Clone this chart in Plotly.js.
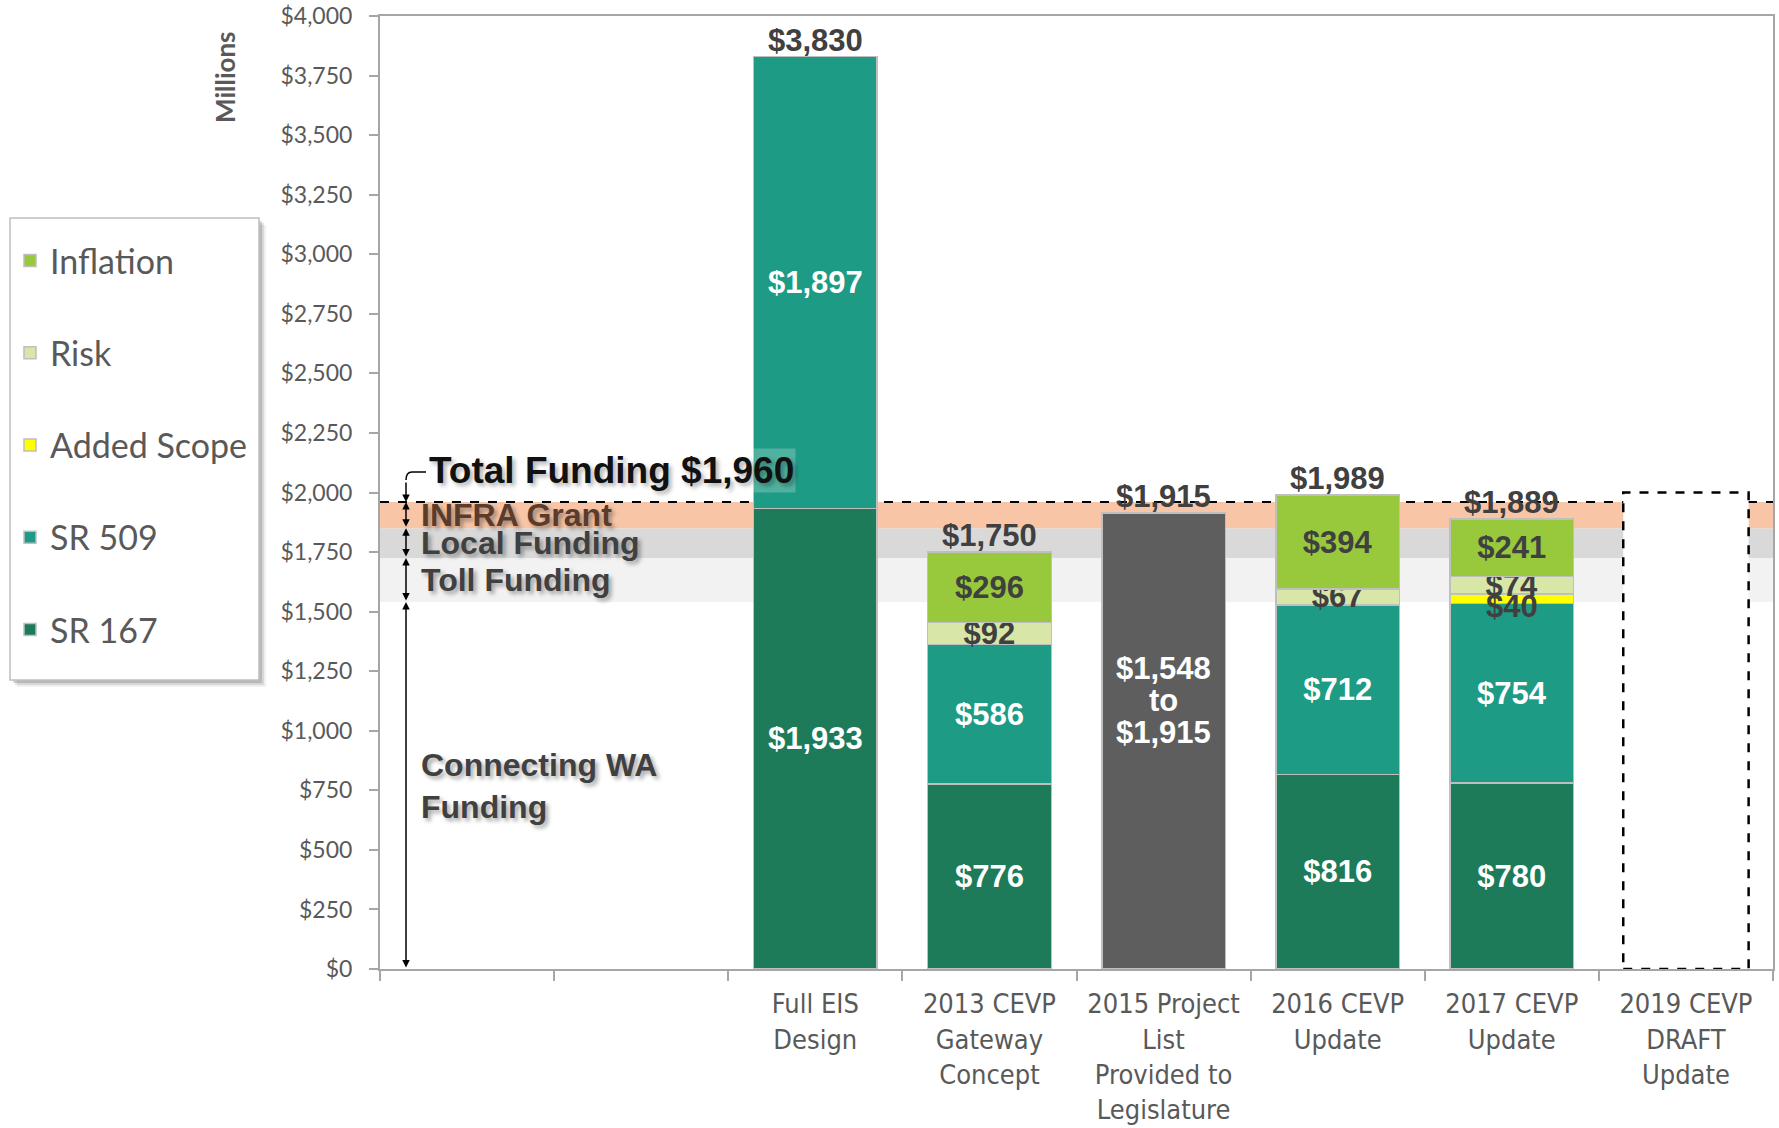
<!DOCTYPE html>
<html>
<head>
<meta charset="utf-8">
<script src="https://cdn.plot.ly/plotly-3.0.1.min.js"></script>
<style>
  html, body { margin: 0; padding: 0; background: #ffffff; }
  #chart { width: 1779px; height: 1128px; }
</style>
</head>
<body>
<div id="chart"></div>
<script>
// ---------------- DATA ----------------
const categories = ['Funding A', 'Funding B', 'Full EIS Design', '2013 CEVP Gateway Concept',
  '2015 Project List Provided to Legislature', '2016 CEVP Update', '2017 CEVP Update', '2019 CEVP DRAFT Update'];
const tickLabels = ['', '', 'Full EIS<br>Design', '2013 CEVP<br>Gateway<br>Concept',
  '2015 Project<br>List<br>Provided to<br>Legislature', '2016 CEVP<br>Update', '2017 CEVP<br>Update',
  '2019 CEVP<br>DRAFT<br>Update'];

const sr167       = [null, null, 1933, 776, null, 816, 780, null];
const sr509       = [null, null, 1897, 586, null, 712, 754, null];
const addedScope  = [null, null, null, null, null, null, 40, null];
const risk        = [null, null, null, 92, null, 67, 74, null];
const inflation   = [null, null, null, 296, null, 394, 241, null];
const projectListHigh = [null, null, null, null, 1915, null, null, null];
const projectListLow  = [null, null, null, null, 1548, null, null, null];
const draftOutline    = [null, null, null, null, null, null, null, 2000];

const bandNames = ['Connecting WA<br>Funding', 'Toll Funding', 'Local Funding', 'INFRA Grant'];
const bandTops  = [1540, 1725, 1850, 1960];
const totalFundingLabel = 'Total Funding';

// ---------------- HELPERS ----------------
const W = 1779, H = 1128;
const M = { l: 380, r: 6, t: 16, b: 159 };
const PW = W - M.l - M.r, PH = H - M.t - M.b;
const X = px => (px - M.l) / PW;            // pixel -> paper x
const Y = py => (H - M.b - py) / PH;         // pixel -> paper y
const money = v => '$' + Math.round(v).toLocaleString('en-US');
const labels = arr => arr.map(v => v == null ? '' : money(v));

const LAB = 'Liberation Sans, Arial, sans-serif';
const DARK = '#404040';
const GREY = '#595959';
const VAL_SIZE = 31;

function barTrace(name, values, color, textColor, rank, showlegend) {
  return {
    type: 'bar', name: name, x: categories, y: values,
    marker: { color: color, line: { color: '#BFBFBF', width: 1.5 } },
    text: labels(values), textposition: 'inside', insidetextanchor: 'middle',
    constraintext: 'none', textangle: 0,
    textfont: { family: LAB, size: VAL_SIZE, color: textColor, weight: 'bold' },
    hoverinfo: 'skip', legendgroup: name, legendrank: rank, showlegend: showlegend !== false,
    cliponaxis: false
  };
}

const tr2015 = barTrace('2015 Project List', projectListHigh, '#5E5E5E', '#FFFFFF', 10, false);
tr2015.text = projectListHigh.map(() => '');
const trScope = barTrace('Added Scope', addedScope, '#FFFF00', DARK, 3);
trScope.text = addedScope.map(() => '');

const traces = [
  barTrace('SR 167', sr167, '#1E7B5A', '#FFFFFF', 5),
  barTrace('SR 509', sr509, '#1E9B85', '#FFFFFF', 4),
  trScope,
  barTrace('Risk', risk, '#D8E6A8', DARK, 2),
  barTrace('Inflation', inflation, '#98C83C', DARK, 1),
  tr2015
];

// totals per category
const totals = categories.map((c, i) => {
  const parts = [sr167, sr509, addedScope, risk, inflation, projectListHigh].map(a => a[i] || 0);
  return parts.reduce((s, v) => s + v, 0);
});

// ---------------- SHAPES ----------------
const bandColors = [null, '#F2F2F2', '#D9D9D9', '#F8C6A7'];
const shapes = [];
bandTops.forEach((top, i) => {
  const bottom = i === 0 ? 0 : bandTops[i - 1];
  if (bandColors[i]) {
    shapes.push({ type: 'rect', xref: 'paper', yref: 'y', x0: 0, x1: 1, y0: bottom, y1: top,
      fillcolor: bandColors[i], line: { width: 0 }, layer: 'below' });
  }
});
const totalFunding = bandTops[bandTops.length - 1];
shapes.push({ type: 'line', xref: 'paper', yref: 'y', x0: 0, x1: 1, y0: totalFunding, y1: totalFunding,
  line: { color: '#000000', width: 2, dash: 'dash' }, layer: 'below' });
draftOutline.forEach((v, i) => {
  if (v == null) return;
  shapes.push({ type: 'rect', xref: 'x', yref: 'y', x0: i - 0.36, x1: i + 0.36, y0: 0, y1: v,
    fillcolor: '#FFFFFF', line: { color: '#000000', width: 2.5, dash: 'dash' }, layer: 'below' });
});
// hook from "Total Funding" text
shapes.push({ type: 'path', xref: 'paper', yref: 'paper',
  path: `M ${X(426)},${Y(472)} L ${X(412)},${Y(472)} Q ${X(406)},${Y(472)} ${X(406)},${Y(480)}`,
  line: { color: '#000000', width: 1.5 } });
// legend frame with soft shadow
const LB = { x0: 10, y0: 218, x1: 259, y1: 680 };
[[7, 'rgba(0,0,0,0.06)'], [5, 'rgba(0,0,0,0.10)'], [3, 'rgba(0,0,0,0.14)']].forEach(([o, c]) => {
  shapes.push({ type: 'rect', xref: 'paper', yref: 'paper', layer: 'above',
    x0: X(LB.x0 + o), x1: X(LB.x1 + o), y0: Y(LB.y1 + o), y1: Y(LB.y0 + o),
    fillcolor: c, line: { width: 0 } });
});
shapes.push({ type: 'rect', xref: 'paper', yref: 'paper', layer: 'above',
  x0: X(LB.x0), x1: X(LB.x1), y0: Y(LB.y1), y1: Y(LB.y0),
  fillcolor: '#FFFFFF', line: { color: '#BFBFBF', width: 1.5 } });

// ---------------- ANNOTATIONS ----------------
const annotations = [];
categories.forEach((c, i) => {
  if (totals[i] > 0) {
    annotations.push({ x: c, y: totals[i], xref: 'x', yref: 'y', yanchor: 'bottom', showarrow: false,
      text: money(totals[i]), yshift: -3,
      font: { family: LAB, size: VAL_SIZE, color: DARK, weight: 'bold' } });
  }
});
// added-scope label, nudged below its thin segment as in the source
addedScope.forEach((v, i) => {
  if (v == null) return;
  const base = (sr167[i] || 0) + (sr509[i] || 0);
  annotations.push({ x: categories[i], xref: 'x', y: base + v / 2, yref: 'y', yanchor: 'middle',
    yshift: -8, showarrow: false, text: money(v),
    font: { family: LAB, size: VAL_SIZE, color: DARK, weight: 'bold' } });
});
// 2015 range label, three lines
projectListHigh.forEach((v, i) => {
  if (v == null) return;
  const lines = [money(projectListLow[i]), 'to', money(v)];
  lines.forEach((t, k) => {
    annotations.push({ x: categories[i], xref: 'x', y: v / 2, yref: 'y', yanchor: 'middle',
      yshift: 72 - k * 32, showarrow: false, text: t,
      font: { family: LAB, size: VAL_SIZE, color: '#FFFFFF', weight: 'bold' } });
  });
});
// funding band labels and arrows
const arrowX = X(406);
bandTops.forEach((top, i) => {
  const bottom = i === 0 ? 0 : bandTops[i - 1];
  annotations.push({ x: X(419), xref: 'paper', xanchor: 'left', y: (top + bottom) / 2, yref: 'y',
    yanchor: 'middle', showarrow: false, align: 'left', text: bandNames[i],
    font: { family: LAB, size: 32, weight: 'bold',
      color: i === 3 ? '#5A3C2C' : DARK, shadow: '3px 3px 4px rgba(0,0,0,0.35)' } });
  annotations.push({ x: arrowX, xref: 'paper', y: top, yref: 'y', ax: 0, axref: 'pixel',
    ay: bottom, ayref: 'y', text: '', showarrow: true, arrowside: 'end+start',
    arrowhead: 2, startarrowhead: 2, arrowsize: 1, startarrowsize: 1, arrowwidth: 1.5, arrowcolor: '#000000' });
});
annotations.push({ x: X(427), xref: 'paper', xanchor: 'left', y: Y(470), yref: 'paper', yanchor: 'middle',
  showarrow: false, text: totalFundingLabel + ' ' + money(totalFunding), bgcolor: 'rgba(255,255,255,0.22)',
  font: { family: LAB, size: 37, color: '#111111', weight: 'bold', shadow: '3px 3px 4px rgba(0,0,0,0.3)' } });
annotations.push({ x: arrowX, xref: 'paper', y: totalFunding, yref: 'y', ax: 0, ay: -21, text: '',
  showarrow: true, arrowhead: 2, arrowsize: 1, arrowwidth: 1.5, arrowcolor: '#000000' });
// y-axis unit title
annotations.push({ x: X(225), xref: 'paper', xanchor: 'center', y: Y(77), yref: 'paper', yanchor: 'middle',
  showarrow: false, textangle: -90,
  text: 'Millions', font: { family: 'Lato, sans-serif', size: 26, color: GREY, weight: 'bold' } });

// ---------------- LAYOUT ----------------
const layout = {
  width: W, height: H, margin: M,
  paper_bgcolor: '#FFFFFF', plot_bgcolor: 'rgba(0,0,0,0)',
  barmode: 'stack', bargap: 0.29,
  showlegend: true,
  legend: {
    x: X(10), xanchor: 'left', y: Y(232), yanchor: 'top',
    bgcolor: 'rgba(0,0,0,0)', borderwidth: 0,
    traceorder: 'grouped', tracegroupgap: 45,
    font: { family: 'Lato, sans-serif', size: 34, color: GREY }
  },
  xaxis: {
    type: 'category', categoryorder: 'array', categoryarray: categories,
    tickvals: categories, ticktext: tickLabels,
    showline: true, linecolor: '#A6A6A6', linewidth: 2, mirror: true,
    ticks: 'outside', tickson: 'boundaries', ticklen: 10, tickcolor: '#A6A6A6', tickwidth: 2,
    tickfont: { family: 'Liberation Sans Narrow, DejaVu Sans Condensed, Roboto Condensed, Roboto, sans-serif', size: 27, color: GREY },
    ticklabelstandoff: 10,
    showgrid: false, zeroline: false, fixedrange: true
  },
  yaxis: {
    range: [0, 4000], dtick: 250, tickprefix: '$', tickformat: ',d',
    showline: true, linecolor: '#A6A6A6', linewidth: 2, mirror: true,
    ticks: 'outside', ticklen: 9, tickcolor: '#A6A6A6', tickwidth: 2,
    tickfont: { family: 'Lato, sans-serif', size: 23, color: GREY },
    ticklabelstandoff: 12,
    showgrid: false, zeroline: false, fixedrange: true
  },
  shapes: shapes,
  annotations: annotations
};

Plotly.newPlot('chart', traces, layout, { staticPlot: true, displayModeBar: false });
</script>
</body>
</html>
